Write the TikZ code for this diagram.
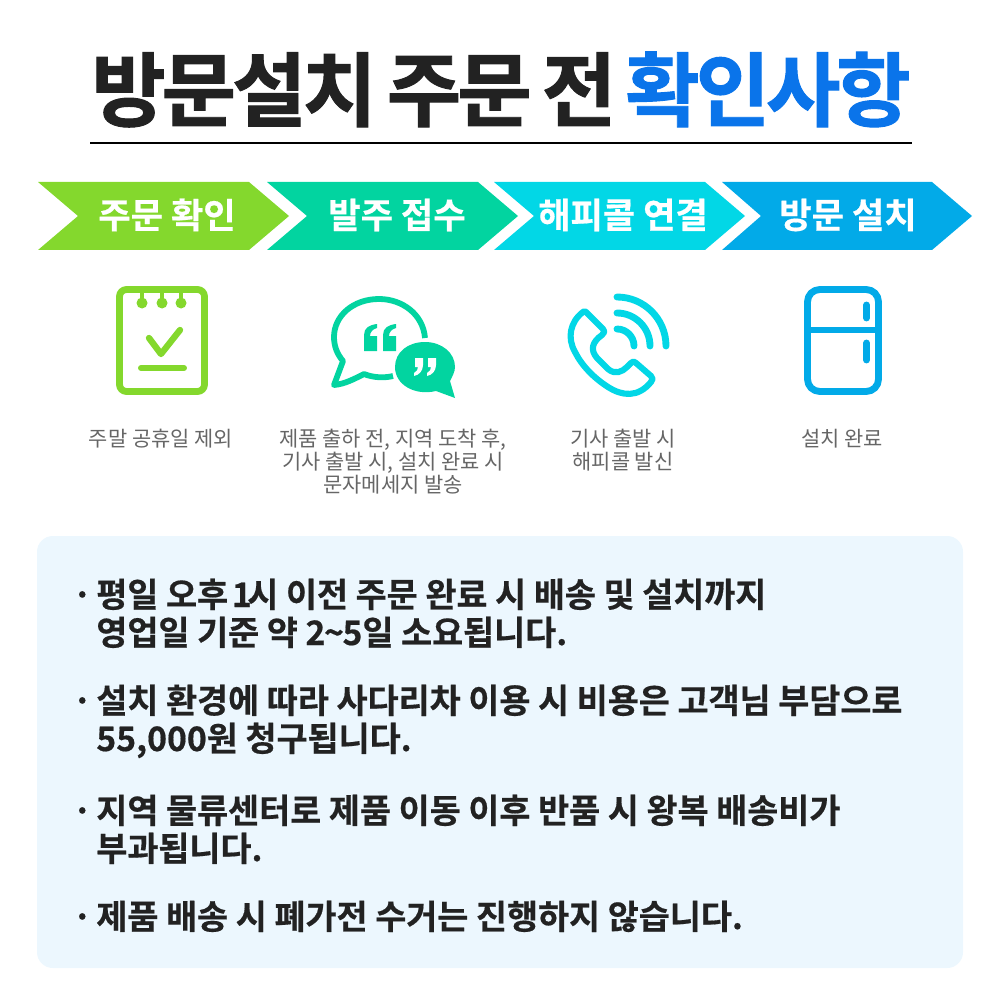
\documentclass[tikz,border=0pt]{standalone}
\usepackage{fontspec}
\setmainfont{Noto Sans CJK KR}
\newfontfamily\heavyfont[FakeBold=1.2, LetterSpace=-5, WordSpace=0.72]{Noto Sans CJK KR Bold}
\newfontfamily\infofont[FakeBold=0.5]{Noto Sans CJK KR Bold}
\newfontfamily\stepfont[FakeBold=0.5]{Noto Sans CJK KR Bold}
\definecolor{stepgreen}{HTML}{84D82D}
\definecolor{stepmint}{HTML}{02D4A0}
\definecolor{stepcyan}{HTML}{02D7E6}
\definecolor{stepblue}{HTML}{02AAE8}
\definecolor{titleblue}{HTML}{0A74EA}
\definecolor{darktext}{HTML}{222222}
\definecolor{panelblue}{HTML}{ECF7FE}
\tikzset{
	headline/.style={font=\heavyfont\fontsize{46}{46}\selectfont, text=darktext, inner sep=0pt},
	steplabel/.style={font=\stepfont\fontsize{20}{20}\selectfont, text=white, inner sep=0pt},
	smalllabel/.style={font=\fontsize{11.9}{13}\selectfont, text=black!60, align=center, inner sep=0pt},
	infoline/.style={font=\infofont\fontsize{19.2}{19.2}\selectfont, text=darktext, inner sep=0pt, anchor=base west},
	iconline/.style={line width=3.9pt, line cap=round, line join=round},
}
\begin{document}
\begin{tikzpicture}[x=0.02cm, y=-0.02cm]
	\useasboundingbox (0, 0) rectangle (1000, 1003);
	% title
	\node[headline, anchor=base west] (titleleft) at (91, 120) {방문설치 주문 전};
	\node[headline, anchor=base east, text=titleblue] (titleright) at (911, 120) {확인사항};
	\draw[line width=1.2pt, black] (90, 143) -- (912, 143);
	% step arrows
	\fill[stepgreen] (38, 182) -- (249, 182) -- (289, 216) -- (249, 250) -- (38, 250) -- (78, 216) -- cycle;
	\fill[stepmint] (267, 182) -- (478, 182) -- (518, 216) -- (478, 250) -- (267, 250) -- (307, 216) -- cycle;
	\fill[stepcyan] (494, 182) -- (705, 182) -- (745, 216) -- (705, 250) -- (494, 250) -- (534, 216) -- cycle;
	\fill[stepblue] (722, 182) -- (932, 182) -- (972, 216) -- (932, 250) -- (722, 250) -- (761, 216) -- cycle;
	\node[steplabel] (stepone) at (167, 215) {주문 확인};
	\node[steplabel] (steptwo) at (397, 215) {발주 접수};
	\node[steplabel] (stepthree) at (623, 215) {해피콜 연결};
	\node[steplabel] (stepfour) at (848, 215) {방문 설치};
	% notepad
	\draw[iconline, stepgreen, rounded corners=4pt] (119.5, 289.5) rectangle (204.5, 391.5);
	\foreach \x in {142, 162, 181} {
		\fill[stepgreen] (\x, 303) circle (5.5);
		\draw[stepgreen, line width=2pt] (\x, 290) -- (\x, 303);
	}
	\draw[iconline, stepgreen, line width=3.6pt] (149, 338) -- (161, 354) -- (180, 330);
	\draw[iconline, stepgreen, line width=3.4pt] (141, 368) -- (184, 368);
	% speech bubbles
	\draw[stepmint, line width=3.3pt, line join=round] (425, 338) .. controls (423, 314) and (402, 299) .. (379, 299)
		.. controls (353, 299) and (334, 316) .. (334, 337) .. controls (334, 346) and (337, 354) .. (343, 361)
		-- (334, 385) .. controls (345, 384) and (354, 379) .. (364, 374) .. controls (374, 378) and (385, 378) .. (393, 376);
	\fill[stepmint] (455, 398) -- (436, 391) .. controls (415, 396) and (395, 385) .. (395, 367)
		.. controls (395, 352) and (408, 342) .. (425, 342) .. controls (442, 342) and (455, 353) .. (455, 367)
		.. controls (455, 372) and (452, 377) .. (450, 381) -- cycle;
	\foreach \x in {364, 383} {
		\fill[stepmint] (\x, 351) -- (\x, 335) .. controls (\x, 328) and (\x+5, 325) .. (\x+13, 324) -- (\x+13, 328)
			.. controls (\x+9, 329) and (\x+6, 332) .. (\x+6, 336) -- (\x+13, 336) -- (\x+13, 351) -- cycle;
	}
	\foreach \x in {415, 428} {
		\fill[white] (\x, 358) -- (\x+8, 358) -- (\x+8, 365) .. controls (\x+8, 371) and (\x+4, 375) .. (\x-1, 376)
			-- (\x-1, 373) .. controls (\x+2, 372) and (\x+3, 369) .. (\x+3, 367) -- (\x, 367) -- cycle;
	}
	% phone
	\draw[iconline, stepcyan, line width=3.5pt] (586, 312) -- (603, 329) .. controls (605, 332) and (604, 333) .. (602, 335)
		.. controls (592, 342) and (590, 350) .. (597, 358) -- (608, 369) .. controls (615, 375) and (622, 372) .. (627, 367)
		-- (631, 363) .. controls (633, 361) and (634, 361) .. (636, 363) -- (651, 376) .. controls (653, 378) and (653, 380) .. (651, 382)
		.. controls (638, 398) and (622, 396) .. (608, 387) .. controls (594, 378) and (582, 366) .. (575, 352)
		.. controls (567, 338) and (570, 322) .. (583, 312) .. controls (584, 311) and (585, 311) .. (586, 312) -- cycle;
	\draw[iconline, stepcyan] (617, 329) arc[start angle=-90, end angle=0, radius=17];
	\draw[iconline, stepcyan] (617, 313) arc[start angle=-90, end angle=0, radius=33];
	\draw[iconline, stepcyan] (617, 297) arc[start angle=-90, end angle=0, radius=49];
	% fridge
	\draw[iconline, stepblue, rounded corners=7pt] (807.5, 289.5) rectangle (878.5, 391.5);
	\draw[stepblue, line width=3.7pt] (807.5, 330) -- (878.5, 330);
	\draw[iconline, stepblue, line width=3.9pt] (866.5, 305) -- (866.5, 318);
	\draw[iconline, stepblue, line width=3.9pt] (866.5, 343) -- (866.5, 360);
	% small labels
	\node[smalllabel] (noteone) at (161, 438.5) {주말 공휴일 제외};
	\node[smalllabel] (notetwo) at (393, 461.5) {제품 출하 전, 지역 도착 후,\\기사 출발 시, 설치 완료 시\\문자메세지 발송};
	\node[smalllabel] (notethree) at (623, 450) {기사 출발 시\\해피콜 발신};
	\node[smalllabel] (notefour) at (842, 438.5) {설치 완료};
	% info panel
	\fill[panelblue, rounded corners=9pt] (37, 536) rectangle (963, 968);
	\node[infoline] (dotone) at (72, 607) {·};
	\node[infoline] (lineone) at (96, 607) {평일 오후 \kern-2.2pt 1\kern-2.6pt 시 이전 주문 완료 시 배송 및 설치까지};
	\node[infoline] (linetwo) at (96, 645) {영업일 기준 약 2\kern-0.8pt\textasciitilde\kern-0.8pt 5일 소요됩니다.};
	\node[infoline] (dottwo) at (72, 713) {·};
	\node[infoline] (linethree) at (96, 713) {설치 환경에 따라 사다리차 이용 시 비용은 고객님 부담으로};
	\node[infoline] (linefour) at (96, 751) {55,000원 청구됩니다.};
	\node[infoline] (dotthree) at (72, 823) {·};
	\node[infoline] (linefive) at (96, 823) {지역 물류센터로 제품 이동 이후 반품 시 왕복 배송비가};
	\node[infoline] (linesix) at (96, 861) {부과됩니다.};
	\node[infoline] (dotfour) at (72, 929) {·};
	\node[infoline] (lineseven) at (96, 929) {제품 배송 시 폐가전 수거는 진행하지 않습니다.};
\end{tikzpicture}
\end{document}
